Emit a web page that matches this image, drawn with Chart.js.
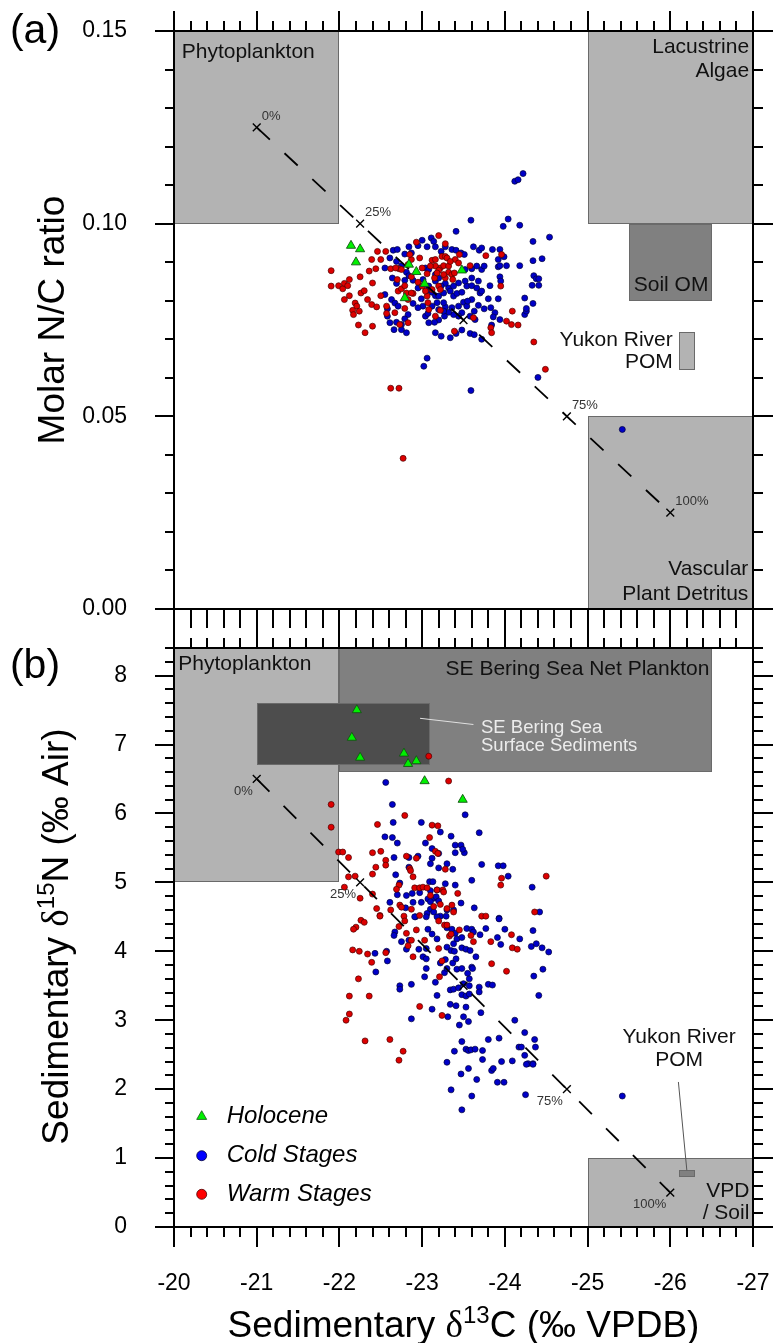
<!DOCTYPE html>
<html>
<head>
<meta charset="utf-8">
<script src="https://cdn.jsdelivr.net/npm/chart.js@4.4.1/dist/chart.umd.min.js"></script>
<style>
  body { margin: 0; background: #fff; }
  #wrap { position: relative; width: 774px; height: 1343px; }
  canvas { position: absolute; left: 0; }
</style>
</head>
<body>
<div id="wrap">
  <canvas id="chartA" width="774" height="640" style="top:0;width:774px;height:640px"></canvas>
  <canvas id="chartB" width="774" height="723" style="top:620px;width:774px;height:723px"></canvas>
</div>
<script>
// ---- tick labels ----
const c13Ticks = [-20, -21, -22, -23, -24, -25, -26, -27];
const ncTicks = [0, 0.05, 0.10, 0.15];
const n15Ticks = [0, 1, 2, 3, 4, 5, 6, 7, 8];

// ---- mixing line (0% = phytoplankton, 100% = terrestrial) ----
const mixLabels = ['0%', '25%', '50%', '75%', '100%'];
const mixC13 = [-21, -22.25, -23.5, -24.75, -26];
const mixNCA = [0.125, 0.10, 0.075, 0.05, 0.025];
const mixN15B = [6.5, 5.0, 3.5, 2.0, 0.5];

// ---- source boxes, panel (a): [d13C from, to], [N/C from, to] ----
const boxNamesA = ['Phytoplankton', 'Lacustrine Algae', 'Soil OM', 'Yukon River POM', 'Vascular Plant Detritus'];
const boxC13A = [[-20, -22], [-25, -27], [-25.5, -26.5], [-26.1, -26.3], [-25, -27]];
const boxNCA = [[0.10, 0.15], [0.10, 0.15], [0.08, 0.10], [0.062, 0.072], [0, 0.05]];

// ---- source boxes, panel (b): [d13C from, to], [d15N from, to] ----
const boxNamesB = ['Phytoplankton', 'SE Bering Sea Net Plankton', 'SE Bering Sea Surface Sediments', 'VPD / Soil', 'Yukon River POM'];
const boxC13B = [[-20, -22], [-22, -26.5], [-21, -23.1], [-25, -27], [-26.1, -26.3]];
const boxN15B = [[5, 8.4], [6.6, 8.4], [6.7, 7.6], [0, 1], [0.72, 0.82]];

// ---- samples, panel (a): [d13C, N/C] ----
const holoceneA = [[-22.14,0.0943],[-22.25,0.0934],[-22.20,0.0900],[-22.84,0.0894],[-22.93,0.0875],[-23.03,0.0844],[-22.79,0.0807],[-23.48,0.0879]];

const warmA = [[-21.90,0.0878],[-21.90,0.0838],[-21.99,0.0839],[-22.04,0.0831],[-22.06,0.0845],[-22.12,0.0855],[-22.10,0.0839],[-22.12,0.0813],
  [-22.06,0.0803],[-22.19,0.0794],[-22.21,0.0786],[-22.16,0.0775],[-22.24,0.0773],[-22.17,0.0764],[-22.23,0.0737],[-22.31,0.0717],[-22.40,0.0734],
  [-22.25,0.0862],[-22.26,0.0820],[-22.30,0.0826],[-22.34,0.0803],[-22.39,0.0790],[-22.45,0.0784],[-22.50,0.0813],[-22.57,0.0786],[-22.57,0.0767],
  [-22.40,0.0846],[-22.36,0.0877],[-22.39,0.0907],[-22.44,0.0883],[-22.46,0.0928],[-22.50,0.0907],[-22.56,0.0928],[-22.62,0.0883],[-22.72,0.0883],
  [-22.71,0.0825],[-22.75,0.0831],[-22.79,0.0839],[-22.83,0.0803],[-22.89,0.0819],[-22.87,0.0862],[-22.83,0.0743],[-22.73,0.0738],[-22.67,0.0769],
  [-22.79,0.0780],[-22.93,0.0952],[-22.97,0.0911],[-23.06,0.0870],[-23.12,0.0905],[-23.16,0.0907],[-23.20,0.0969],[-23.28,0.0948],[-23.24,0.0915],
  [-23.22,0.0885],[-23.26,0.0891],[-23.32,0.0874],[-23.36,0.0868],[-23.39,0.0872],[-23.37,0.0855],[-23.28,0.0859],[-23.20,0.0838],[-23.15,0.0859],
  [-23.12,0.0829],[-23.06,0.0812],[-23.08,0.0777],[-23.16,0.0760],[-23.22,0.0775],[-23.28,0.0915],[-23.16,0.0890],[-23.20,0.0879],[-23.30,0.0911],
  [-23.40,0.0907],[-23.44,0.0898],[-23.07,0.0795],[-23.45,0.0920],[-23.62,0.0756],[-23.77,0.0917],[-23.83,0.0730],[-23.84,0.0717],[-23.95,0.0838],
  [-23.96,0.0920],[-24.09,0.0773],[-24.02,0.0747],[-24.08,0.0738],[-24.16,0.0737],[-23.58,0.0891],[-23.39,0.0721],[-22.87,0.0907],[-22.85,0.0920],
  [-23.00,0.0885],[-23.10,0.0890],[-23.18,0.0872],[-23.32,0.0890],[-22.83,0.0894],[-22.75,0.0881],[-22.68,0.0885],[-22.70,0.0855],[-22.81,0.0820],
  [-22.87,0.0820],[-22.95,0.0848],[-23.04,0.0825],[-23.00,0.0838],[-23.22,0.0829],[-23.26,0.0868],[-23.34,0.0902],[-24.35,0.0693],[-24.49,0.0622],
  [-22.62,0.0573],[-22.72,0.0573],[-22.77,0.0391]];

const coldA = [[-22.65,0.0931],[-22.70,0.0933],[-22.61,0.0911],[-22.79,0.0921],[-22.87,0.0924],[-22.84,0.0940],[-22.95,0.0943],[-23.00,0.0957],
  [-23.11,0.0963],[-23.14,0.0954],[-23.06,0.0940],[-23.16,0.0940],[-23.23,0.0928],[-23.28,0.0940],[-23.36,0.0933],[-23.41,0.0931],[-23.47,0.0924],
  [-23.51,0.0920],[-23.41,0.0980],[-23.59,0.1009],[-23.62,0.0940],[-23.69,0.0931],[-23.72,0.0937],[-23.85,0.0933],[-23.94,0.0933],[-23.99,0.0914],
  [-23.92,0.0907],[-24.04,0.1012],[-23.98,0.0993],[-24.18,0.0996],[-24.12,0.1110],[-24.16,0.1114],[-24.22,0.1130],[-22.69,0.0902],[-22.75,0.0891],
  [-22.81,0.0874],[-22.79,0.0853],[-22.64,0.0859],[-22.55,0.0885],[-22.69,0.0845],[-22.84,0.0865],[-22.89,0.0853],[-22.95,0.0833],[-23.01,0.0855],
  [-23.06,0.0827],[-23.08,0.0838],[-23.12,0.0822],[-23.16,0.0813],[-23.20,0.0812],[-23.26,0.0820],[-23.32,0.0833],[-23.34,0.0825],[-23.38,0.0812],
  [-23.42,0.0819],[-23.48,0.0822],[-23.54,0.0838],[-23.60,0.0839],[-23.66,0.0833],[-23.70,0.0820],[-23.80,0.0805],[-23.92,0.0805],[-23.88,0.0769],
  [-23.83,0.0782],[-23.75,0.0779],[-23.68,0.0788],[-23.63,0.0773],[-23.58,0.0760],[-23.48,0.0769],[-23.44,0.0760],[-23.38,0.0764],[-23.32,0.0770],
  [-23.27,0.0760],[-23.20,0.0750],[-23.15,0.0744],[-23.08,0.0743],[-23.04,0.0760],[-23.01,0.0786],[-22.95,0.0782],[-22.89,0.0793],[-22.83,0.0764],
  [-22.79,0.0753],[-22.75,0.0738],[-22.69,0.0744],[-22.61,0.0743],[-22.58,0.0760],[-22.58,0.0779],[-22.55,0.0816],[-22.63,0.0803],[-22.67,0.0794],
  [-22.71,0.0786],[-22.75,0.0725],[-22.81,0.0717],[-22.66,0.0725],[-23.16,0.0717],[-23.23,0.0708],[-23.34,0.0704],[-23.41,0.0715],[-23.48,0.0724],
  [-23.58,0.0715],[-23.63,0.0712],[-23.72,0.0700],[-23.84,0.0737],[-23.86,0.0758],[-23.94,0.0751],[-23.64,0.0751],[-23.28,0.0784],[-23.36,0.0782],
  [-23.44,0.0786],[-23.50,0.0796],[-23.54,0.0786],[-23.60,0.0803],[-23.55,0.0799],[-23.18,0.0795],[-23.20,0.0777],[-23.26,0.0795],[-23.26,0.0773],
  [-23.12,0.0786],[-23.07,0.0767],[-22.99,0.0805],[-23.04,0.0885],[-23.08,0.0881],[-23.16,0.0868],[-23.52,0.0881],[-23.60,0.0883],[-23.66,0.0890],
  [-23.72,0.0881],[-23.75,0.0890],[-23.92,0.0888],[-23.94,0.0891],[-24.02,0.0891],[-24.18,0.0891],[-23.94,0.0862],[-23.95,0.0851],[-23.82,0.0839],
  [-23.72,0.0825],[-23.68,0.0851],[-23.60,0.0859],[-23.52,0.0851],[-23.44,0.0846],[-23.38,0.0838],[-23.28,0.0845],[-23.23,0.0838],[-23.16,0.0851],
  [-23.20,0.0859],[-23.06,0.0651],[-23.02,0.0630],[-24.24,0.0807],[-24.24,0.0764],[-24.34,0.0954],[-24.54,0.0965],[-24.34,0.0904],[-24.45,0.0909],
  [-24.35,0.0865],[-24.38,0.0857],[-24.41,0.0857],[-24.41,0.0840],[-24.33,0.0840],[-24.26,0.0773],[-24.34,0.0793],[-24.26,0.0780],[-24.40,0.0601],
  [-23.59,0.0567],[-25.42,0.0466]];

// ---- samples, panel (b): [d13C, d15N] ----
const holoceneB = [[-22.21,7.50],[-22.15,7.10],[-22.25,6.81],[-22.78,6.87],[-22.83,6.72],[-22.93,6.76],[-23.03,6.47],[-23.49,6.20]];

const warmB = [[-23.32,6.47],[-21.90,6.13],[-21.90,5.80],[-21.99,5.44],[-22.04,5.44],[-22.11,5.36],[-22.40,5.43],[-22.50,5.45],[-22.44,5.22],
  [-22.56,5.32],[-22.56,5.25],[-22.40,5.12],[-22.11,5.08],[-22.19,5.09],[-22.06,4.93],[-22.25,4.77],[-22.40,4.83],[-22.45,4.62],[-22.49,4.52],
  [-22.62,4.60],[-22.79,5.97],[-22.46,5.84],[-23.12,5.83],[-23.19,5.82],[-23.09,5.65],[-23.16,5.45],[-23.19,5.42],[-22.93,5.35],[-22.81,5.38],
  [-22.85,5.20],[-22.86,5.17],[-23.28,5.19],[-22.89,5.08],[-22.72,4.96],[-22.69,4.90],[-22.91,4.92],[-22.97,4.92],[-23.01,4.93],[-23.06,4.92],
  [-23.10,4.81],[-23.18,4.89],[-23.25,4.89],[-23.26,4.86],[-23.43,4.84],[-22.73,4.67],[-22.75,4.64],[-22.87,4.61],[-23.14,4.65],[-23.22,4.68],
  [-23.30,4.62],[-23.36,4.67],[-23.38,4.57],[-23.96,5.06],[-23.95,4.96],[-24.50,5.09],[-24.36,4.57],[-23.72,4.51],[-23.77,4.51],[-22.97,4.52],
  [-22.78,4.51],[-22.26,4.45],[-22.30,4.42],[-22.20,4.35],[-22.17,4.32],[-22.49,4.51],[-22.79,4.44],[-22.72,4.36],[-22.81,4.26],[-22.93,4.31],
  [-22.87,4.16],[-23.03,4.16],[-22.83,4.08],[-23.20,4.44],[-23.27,4.38],[-23.30,4.38],[-23.33,4.22],[-23.35,4.25],[-23.45,4.31],[-23.59,4.23],
  [-23.62,4.14],[-23.83,4.14],[-24.08,4.24],[-24.09,4.05],[-24.15,4.03],[-23.20,4.04],[-23.24,3.86],[-22.89,3.92],[-22.16,4.02],[-22.24,4.00],
  [-22.34,3.96],[-22.56,3.98],[-22.39,3.84],[-22.23,3.60],[-23.21,3.63],[-23.84,3.82],[-24.02,3.71],[-22.12,3.35],[-22.36,3.35],[-22.97,3.20],
  [-23.24,3.07],[-22.12,3.09],[-22.08,3.00],[-22.31,2.70],[-22.61,2.72],[-22.77,2.55],[-22.72,2.42],[-23.08,6.83]];

const coldB = [[-22.56,6.45],[-22.64,6.13],[-23.52,5.98],[-22.65,5.87],[-22.99,5.87],[-23.22,5.73],[-22.55,5.66],[-22.64,5.65],[-22.70,5.57],
  [-23.04,5.57],[-23.35,5.67],[-23.69,5.72],[-23.12,5.49],[-23.40,5.54],[-23.47,5.54],[-23.40,5.43],[-23.51,5.43],[-23.49,5.48],[-23.20,5.42],
  [-22.66,5.36],[-22.84,5.36],[-22.95,5.38],[-23.12,5.35],[-23.10,5.27],[-23.30,5.27],[-23.20,5.21],[-23.37,5.19],[-22.84,5.22],[-23.72,5.26],
  [-23.92,5.24],[-23.98,5.24],[-24.04,5.09],[-22.68,5.11],[-22.73,4.99],[-23.09,5.01],[-23.13,5.01],[-23.28,4.98],[-23.40,4.96],[-23.60,5.03],
  [-24.33,4.93],[-22.70,4.82],[-22.81,4.81],[-22.88,4.84],[-22.97,4.85],[-23.10,4.88],[-23.18,4.89],[-23.14,4.77],[-23.17,4.79],[-23.20,4.73],
  [-23.07,4.76],[-23.10,4.72],[-22.61,4.71],[-22.89,4.71],[-22.99,4.71],[-22.80,4.63],[-23.10,4.61],[-23.14,4.57],[-23.22,4.51],[-23.29,4.51],
  [-23.30,4.60],[-23.38,4.60],[-23.47,4.70],[-23.63,4.63],[-23.93,4.48],[-24.42,4.57],[-22.92,4.50],[-23.06,4.55],[-22.91,4.50],[-23.05,4.50],
  [-23.18,4.50],[-23.93,4.47],[-24.00,4.32],[-24.18,4.18],[-24.34,4.30],[-22.67,4.28],[-22.66,4.23],[-22.75,4.14],[-22.84,4.16],[-23.07,4.32],
  [-23.12,4.25],[-23.18,4.18],[-23.30,4.34],[-23.36,4.32],[-23.40,4.26],[-23.42,4.18],[-23.38,4.11],[-23.48,4.20],[-23.54,4.33],[-23.60,4.32],
  [-23.62,4.28],[-23.70,4.24],[-23.77,4.33],[-23.91,4.20],[-23.95,4.10],[-24.32,4.07],[-24.38,4.11],[-24.45,4.05],[-24.53,3.99],[-22.81,4.03],
  [-22.96,4.03],[-23.05,4.04],[-23.30,4.06],[-23.35,4.01],[-23.39,4.00],[-23.48,4.05],[-23.53,4.03],[-23.58,4.01],[-23.65,3.92],[-22.57,4.00],
  [-22.58,3.86],[-22.43,3.97],[-22.44,3.70],[-23.01,3.92],[-23.05,3.89],[-23.22,3.83],[-23.28,3.88],[-23.37,3.83],[-23.41,3.89],[-23.05,3.75],
  [-23.27,3.69],[-23.30,3.75],[-23.42,3.74],[-23.48,3.75],[-23.60,3.77],[-23.61,3.75],[-23.55,3.68],[-23.57,3.60],[-23.03,3.63],[-23.16,3.55],
  [-22.87,3.52],[-22.73,3.50],[-22.73,3.45],[-23.34,3.44],[-23.38,3.45],[-23.44,3.47],[-23.50,3.53],[-23.57,3.50],[-23.48,3.37],[-23.53,3.35],
  [-23.57,3.38],[-23.69,3.48],[-23.69,3.41],[-23.80,3.52],[-23.85,3.51],[-23.18,3.36],[-23.34,3.23],[-23.41,3.21],[-23.53,3.19],[-23.71,3.11],
  [-23.12,3.16],[-23.31,3.05],[-23.50,3.05],[-23.56,2.98],[-23.45,2.93],[-22.87,3.02],[-24.35,3.64],[-24.46,3.74],[-24.41,3.36],[-24.12,3.00],
  [-24.24,2.82],[-24.36,2.72],[-24.37,2.61],[-24.17,2.61],[-24.20,2.61],[-24.24,2.49],[-24.28,2.37],[-24.34,2.37],[-23.93,2.74],[-23.80,2.72],
  [-23.48,2.69],[-23.39,2.55],[-23.53,2.58],[-23.56,2.56],[-23.59,2.57],[-23.64,2.58],[-23.73,2.56],[-23.73,2.43],[-23.96,2.40],[-24.09,2.41],
  [-23.30,2.39],[-23.56,2.30],[-23.47,2.22],[-23.66,2.14],[-23.84,2.27],[-23.86,2.30],[-23.91,2.10],[-23.99,2.10],[-24.26,2.36],[-24.34,2.36],
  [-23.35,1.99],[-23.60,1.90],[-23.48,1.70],[-24.25,1.92],[-25.42,1.90]];

const legendNames = ['Holocene', 'Cold Stages', 'Warm Stages'];

// ---- styling ----
const FONT = '"Liberation Sans", Arial, Helvetica, sans-serif';
const RED = '#dd0000', BLUE = '#0000c8', GREEN = '#00f000';
const pts = arr => arr.map(([x, y]) => ({ x, y }));
const zip = (xs, ys) => xs.map((x, i) => ({ x, y: ys[i] }));

function sampleSets(holo, warm, cold, mixY) {
  return [
    { label: 'Holocene', data: pts(holo), pointStyle: 'triangle', pointRadius: 5.3,
      backgroundColor: GREEN, borderColor: '#145214', borderWidth: 0.9 },
    { label: 'mixing', data: zip(mixC13, mixY), showLine: true, borderColor: '#000', borderWidth: 1.8,
      borderDash: [18, 20], pointStyle: 'crossRot', pointRadius: 5.5, pointBorderColor: '#000',
      pointBorderWidth: 1.4, pointBackgroundColor: 'transparent' },
    { label: 'Warm Stages', data: pts(warm), pointRadius: 3, backgroundColor: RED,
      borderColor: '#4a0000', borderWidth: 0.7 },
    { label: 'Cold Stages', data: pts(cold), pointRadius: 3, backgroundColor: BLUE,
      borderColor: '#00003a', borderWidth: 0.7 }
  ];
}

// boxes + their labels, drawn under the points
function boxPlugin(c13, vals, fills, labels, leaders) {
  return {
    id: 'boxes',
    beforeDatasetsDraw(chart) {
      const { ctx, chartArea: a, scales: { x, y } } = chart;
      ctx.save();
      ctx.beginPath();
      ctx.rect(a.left, a.top, a.right - a.left, a.bottom - a.top);
      ctx.clip();
      c13.forEach((cx, i) => {
        const x1 = Math.round(x.getPixelForValue(cx[0])), x2 = Math.round(x.getPixelForValue(cx[1]));
        const y1 = Math.round(y.getPixelForValue(vals[i][1])), y2 = Math.round(y.getPixelForValue(vals[i][0]));
        ctx.fillStyle = fills[i];
        ctx.fillRect(x1, y1, x2 - x1, y2 - y1);
        ctx.strokeStyle = '#6a6a6a';
        ctx.lineWidth = 1;
        ctx.strokeRect(x1 + 0.5, y1 + 0.5, x2 - x1 - 1, y2 - y1 - 1);
      });
      leaders.forEach(l => {
        ctx.strokeStyle = l.color;
        ctx.lineWidth = 1;
        ctx.beginPath();
        ctx.moveTo(x.getPixelForValue(l.from[0]), y.getPixelForValue(l.from[1]));
        ctx.lineTo(x.getPixelForValue(l.to[0]), y.getPixelForValue(l.to[1]));
        ctx.stroke();
      });
      labels.forEach(l => {
        ctx.font = (l.size || 21) + 'px ' + FONT;
        ctx.fillStyle = l.color || '#111';
        ctx.textAlign = l.align;
        ctx.textBaseline = 'middle';
        const px = x.getPixelForValue(l.x), py = y.getPixelForValue(l.y);
        l.lines.forEach((t, k) => ctx.fillText(t, px, py + k * (l.lh || 23.3)));
      });
      ctx.restore();
    }
  };
}

// axis frame with outward major / minor ticks
function framePlugin(o) {
  return {
    id: 'frame',
    afterDatasetsDraw(chart) {
      const { ctx, chartArea: a, scales: { x, y } } = chart;
      ctx.save();
      ctx.strokeStyle = '#000';
      ctx.lineWidth = 2;
      ctx.strokeRect(a.left, a.top, a.right - a.left, a.bottom - a.top);
      ctx.beginPath();
      const nx = Math.round((x.max - x.min) / o.xStep);
      for (let i = 0; i <= nx; i++) {
        const v = x.min + i * o.xStep;
        const major = Math.abs(v - Math.round(v)) < 1e-6;
        const px = Math.round(x.getPixelForValue(v));
        ctx.moveTo(px, a.top); ctx.lineTo(px, a.top - (major ? o.top[0] : o.top[1]));
        ctx.moveTo(px, a.bottom); ctx.lineTo(px, a.bottom + (major ? o.bottom[0] : o.bottom[1]));
      }
      const ny = Math.round((y.max - y.min) / o.yStep);
      for (let i = 0; i <= ny; i++) {
        const v = y.min + i * o.yStep;
        const r = v / o.yMajor;
        const major = Math.abs(r - Math.round(r)) < 1e-6;
        const py = Math.round(y.getPixelForValue(v));
        ctx.moveTo(a.left, py); ctx.lineTo(a.left - (major ? 19 : 9), py);
        ctx.moveTo(a.right, py); ctx.lineTo(a.right + (major ? 20 : 10), py);
      }
      ctx.stroke();
      // percent labels on the mixing line
      const meta = chart.getDatasetMeta(1);
      ctx.font = '13px ' + FONT;
      ctx.fillStyle = '#333';
      ctx.textBaseline = 'middle';
      ctx.textAlign = o.pctAlign;
      meta.data.forEach((p, i) => {
        if (i === 2) return; // 50% label is not shown in the original
        ctx.fillText(mixLabels[i], p.x + o.pctDx, p.y + o.pctDy);
      });
      ctx.restore();
    }
  };
}

function drawRich(ctx, parts, x, y, rotate) {
  ctx.save();
  ctx.translate(x, y);
  if (rotate) ctx.rotate(-Math.PI / 2);
  let w = 0;
  parts.forEach(p => { ctx.font = p.font; w += ctx.measureText(p.text).width; });
  let cx = -w / 2;
  ctx.textAlign = 'left';
  ctx.textBaseline = 'alphabetic';
  ctx.fillStyle = '#000';
  parts.forEach(p => {
    ctx.font = p.font;
    ctx.fillText(p.text, cx, p.dy || 0);
    cx += ctx.measureText(p.text).width;
  });
  ctx.restore();
}

const BIG = '37px ' + FONT, SUP = '24px ' + FONT, DELTA = '37px "Liberation Serif", serif';

function titlePlugin(draw) {
  return { id: 'titles', afterDraw(chart) { draw(chart.ctx, chart); } };
}

function scalesFor(yMin, yMax, yTicks, yFmt, xHeight, showX) {
  return {
    x: {
      type: 'linear', min: -27, max: -20, reverse: true,
      grid: { display: false }, border: { display: false },
      ticks: { display: showX, autoSkip: false, maxRotation: 0, padding: 35, color: '#000',
        font: { family: FONT, size: 23 } },
      afterBuildTicks: s => { s.ticks = c13Ticks.map(v => ({ value: v })); },
      afterFit: s => { s.height = xHeight; s.paddingLeft = 0; s.paddingRight = 0; }
    },
    y: {
      type: 'linear', min: yMin, max: yMax,
      grid: { display: false }, border: { display: false },
      ticks: { padding: 39, color: '#000', font: { family: FONT, size: 23 }, callback: yFmt },
      afterBuildTicks: s => { s.ticks = yTicks.map(v => ({ value: v })); },
      // keep the plot frame where the padding says, labels may overhang
      afterFit: s => { s.width = 174; s.paddingTop = 0; s.paddingBottom = 0; }
    }
  };
}

const baseOpts = {
  responsive: false, animation: false, devicePixelRatio: 1
};

// ---------------- panel (a) ----------------
new Chart(document.getElementById('chartA'), {
  type: 'scatter',
  data: { datasets: sampleSets(holoceneA, warmA, coldA, mixNCA) },
  options: Object.assign({}, baseOpts, {
    layout: { padding: { top: 31, right: 21, left: 0, bottom: 0 } },
    plugins: { legend: { display: false }, tooltip: { enabled: false } },
    scales: scalesFor(0, 0.15, ncTicks, v => v.toFixed(2), 31, false)
  }),
  plugins: [
    boxPlugin(boxC13A, boxNCA, ['#b3b3b3', '#b3b3b3', '#808080', '#b3b3b3', '#b3b3b3'], [
      { lines: ['Phytoplankton'], x: -20.093, y: 0.1446, align: 'left' },
      { lines: ['Lacustrine', 'Algae'], x: -26.953, y: 0.1457, align: 'right' },
      { lines: ['Soil OM'], x: -26.461, y: 0.0840, align: 'right' },
      { lines: ['Yukon River', 'POM'], x: -26.03, y: 0.0698, align: 'right', lh: 22.6 },
      { lines: ['Vascular', 'Plant Detritus'], x: -26.944, y: 0.0102, align: 'right', lh: 24.3 }
    ], []),
    framePlugin({ xStep: 0.2, yStep: 0.01, yMajor: 0.05, top: [20, 10], bottom: [20, 19],
      pctAlign: 'left', pctDx: 5, pctDy: -11 }),
    titlePlugin(ctx => {
      drawRich(ctx, [{ text: '(a)', font: '41px ' + FONT }], 35, 43, false);
      drawRich(ctx, [{ text: 'Molar N/C ratio', font: BIG }], 63.5, 320, true);
    })
  ]
});

// ---------------- panel (b) ----------------
new Chart(document.getElementById('chartB'), {
  type: 'scatter',
  data: { datasets: sampleSets(holoceneB, warmB, coldB, mixN15B) },
  options: Object.assign({}, baseOpts, {
    layout: { padding: { top: 28, right: 21, left: 0, bottom: 0 } },
    plugins: { legend: { display: false }, tooltip: { enabled: false } },
    scales: scalesFor(0, 8.4, n15Ticks, v => String(v), 116, true)
  }),
  plugins: [
    boxPlugin(boxC13B, boxN15B, ['#b3b3b3', '#808080', '#4d4d4d', '#b3b3b3', '#808080'], [
      { lines: ['Phytoplankton'], x: -20.052, y: 8.167, align: 'left' },
      { lines: ['SE Bering Sea Net Plankton'], x: -26.473, y: 8.09, align: 'right' },
      { lines: ['SE Bering Sea', 'Surface Sediments'], x: -23.712, y: 7.243, align: 'left',
        size: 18.5, lh: 18.3, color: '#ececec' },
      { lines: ['Yukon River', 'POM'], x: -26.106, y: 2.758, align: 'center', lh: 23.3 },
      { lines: ['VPD', '/ Soil'], x: -26.956, y: 0.522, align: 'right', lh: 22.6 }
    ], [
      { from: [-22.975, 7.38], to: [-23.62, 7.29], color: '#e0e0e0' },
      { from: [-26.098, 2.104], to: [-26.20, 0.823], color: '#555' }
    ]),
    framePlugin({ xStep: 0.2, yStep: 0.2, yMajor: 1, top: [20, 10], bottom: [20, 10],
      pctAlign: 'right', pctDx: -4, pctDy: 12 }),
    {
      id: 'sampleLegend',
      afterDatasetsDraw(chart) {
        const { ctx, chartArea: a } = chart;
        const rows = [a.bottom - 111, a.bottom - 71.3, a.bottom - 32.7];
        const mx = a.left + 27.7;
        ctx.save();
        rows.forEach((ry, i) => {
          ctx.beginPath();
          if (i === 0) {
            ctx.moveTo(mx, ry - 5.3); ctx.lineTo(mx + 5, ry + 3.4); ctx.lineTo(mx - 5, ry + 3.4); ctx.closePath();
            ctx.fillStyle = GREEN; ctx.strokeStyle = '#145214';
          } else {
            ctx.arc(mx, ry, 5, 0, Math.PI * 2);
            ctx.fillStyle = i === 1 ? '#0000ff' : '#ff0000';
            ctx.strokeStyle = i === 1 ? '#00003a' : '#4a0000';
          }
          ctx.lineWidth = 0.8;
          ctx.fill(); ctx.stroke();
          ctx.font = 'italic 24px ' + FONT;
          ctx.fillStyle = '#000';
          ctx.textAlign = 'left';
          ctx.textBaseline = 'middle';
          ctx.fillText(legendNames[i], a.left + 52.7, ry);
        });
        ctx.restore();
      }
    },
    titlePlugin(ctx => {
      drawRich(ctx, [{ text: '(b)', font: '41px ' + FONT }], 35, 58, false);
      drawRich(ctx, [
        { text: 'Sedimentary ', font: BIG },
        { text: '\u03b4', font: DELTA },
        { text: '15', font: SUP, dy: -14 },
        { text: 'N (\u2030 Air)', font: BIG }
      ], 68, 316.5, true);
      drawRich(ctx, [
        { text: 'Sedimentary ', font: BIG },
        { text: '\u03b4', font: DELTA },
        { text: '13', font: SUP, dy: -14 },
        { text: 'C (\u2030 VPDB)', font: BIG }
      ], 463.5, 716.5, false);
    })
  ]
});
</script>
</body>
</html>
